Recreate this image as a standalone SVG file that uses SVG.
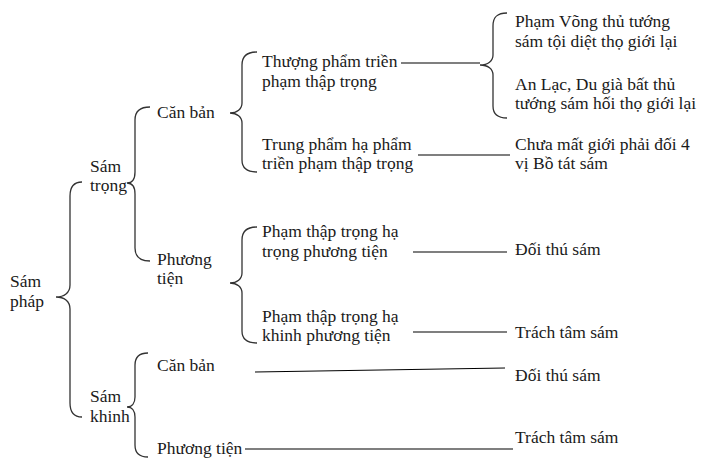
<svg xmlns="http://www.w3.org/2000/svg" width="702" height="475" viewBox="0 0 702 475">
<style>
text{font-family:"Liberation Serif","Times New Roman",serif;font-size:17.5px;fill:#1a1a1a}
.br{fill:none;stroke:#333;stroke-width:1.3}
.ln{fill:none;stroke:#000;stroke-width:1.2}
</style>
<rect width="702" height="475" fill="#fff"/>
<g id="connectors">
<path class="br" d="M82,182 C74,182 70,186 70,196 L70,285 C70,293 64,297 56,297 C64,297 70,301 70,309 L70,403 C70,413 74,417 82,417"/>
<path class="br" d="M150,107 C140,107 135,111 135,120 L135,172 C135,179 132,183 127,183 C132,183 135,187 135,194 L135,248 C135,257 140,261 150,261"/>
<path class="br" d="M148,353 C139,353 135,357 135,365 L135,397 C135,403 132,407 127,407 C132,407 135,411 135,417 L135,445 C135,453 139,457 148,457"/>
<path class="br" d="M257,52 C247,52 242,56 242,65 L242,103 C242,109 237,113 230,113 C237,113 242,117 242,123 L242,160 C242,168 247,172 257,172"/>
<path class="br" d="M507,13 C497,13 493,17 493,26 L493,55 C493,61 488,65 480,65 C488,65 493,69 493,75 L493,106 C493,114 497,118 507,118"/>
<path class="br" d="M257,227 C247,227 242,231 242,240 L242,273 C242,279 237,283 230,283 C237,283 242,287 242,293 L242,331 C242,339 247,343 257,343"/>
<line class="ln" x1="401" y1="63" x2="480" y2="63"/>
<line class="ln" x1="418" y1="155" x2="510" y2="155"/>
<line class="ln" x1="413" y1="252" x2="507" y2="252"/>
<line class="ln" x1="413" y1="332" x2="507" y2="332"/>
<line class="ln" x1="255" y1="372" x2="505" y2="368" stroke="#555"/>
<line class="ln" x1="245" y1="449" x2="513" y2="449"/>
</g>
<g id="n-sam-phap"><text x="10" y="287">Sám</text><text x="10" y="307">pháp</text></g>
<g id="n-sam-trong"><text x="90" y="172">Sám</text><text x="90" y="191">trọng</text></g>
<g id="n-sam-khinh"><text x="90" y="402">Sám</text><text x="90" y="422">khinh</text></g>
<g id="n-can-ban-1"><text x="157" y="118">Căn bản</text></g>
<g id="n-phuong-tien-1"><text x="157" y="265">Phương</text><text x="157" y="284">tiện</text></g>
<g id="n-can-ban-2"><text x="157" y="371">Căn bản</text></g>
<g id="n-phuong-tien-2"><text x="157" y="454">Phương tiện</text></g>
<g id="n-thuong-pham"><text x="262" y="67">Thượng phẩm triền</text><text x="262" y="87">phạm thập trọng</text></g>
<g id="n-trung-pham"><text x="262" y="150">Trung phẩm hạ phẩm</text><text x="262" y="169">triền phạm thập trọng</text></g>
<g id="n-pham-trong"><text x="262" y="237">Phạm thập trọng hạ</text><text x="262" y="257">trọng phương tiện</text></g>
<g id="n-pham-khinh"><text x="262" y="322">Phạm thập trọng hạ</text><text x="262" y="341">khinh phương tiện</text></g>
<g id="n-pham-vong"><text x="515" y="27">Phạm Võng thủ tướng</text><text x="515" y="47">sám tội diệt thọ giới lại</text></g>
<g id="n-an-lac"><text x="515" y="90">An Lạc, Du già bất thủ</text><text x="515" y="109">tướng sám hối thọ giới lại</text></g>
<g id="n-chua-mat"><text x="515" y="150">Chưa mất giới phải đối 4</text><text x="515" y="169">vị Bồ tát sám</text></g>
<g id="n-doi-thu-1"><text x="515" y="255">Đối thú sám</text></g>
<g id="n-trach-tam-1"><text x="515" y="338">Trách tâm sám</text></g>
<g id="n-doi-thu-2"><text x="515" y="381">Đối thú sám</text></g>
<g id="n-trach-tam-2"><text x="515" y="443">Trách tâm sám</text></g>
</svg>
